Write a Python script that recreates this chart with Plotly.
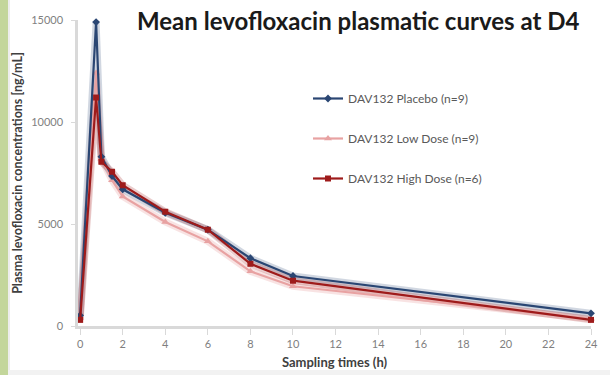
import plotly.graph_objects as go

times = [0, 0.75, 1, 1.5, 2, 4, 6, 8, 10, 24]
placebo = [520, 14900, 8300, 7350, 6700, 5550, 4720, 3320, 2450, 620]
low_dose = [400, 12400, 8200, 7150, 6350, 5100, 4150, 2680, 1950, 350]
high_dose = [300, 11200, 8050, 7560, 6900, 5600, 4720, 3050, 2220, 300]

names = ["DAV132 Placebo (n=9)", "DAV132 Low Dose (n=9)", "DAV132 High Dose (n=6)"]
x_ticks = list(range(0, 25, 2))
y_ticks = [0, 5000, 10000, 15000]

title_text = "Mean levofloxacin plasmatic curves at D4"
x_title = "Sampling times (h)"
y_title = "Plasma levofloxacin concentrations [ng/mL]"

series = [
    (names[1], low_dose, "#E8A2A2", "rgba(232,162,162,0.30)", "triangle-up", 7, 2),
    (names[0], placebo, "#2A4673", "rgba(44,74,120,0.22)", "diamond", 6, 1),
    (names[2], high_dose, "#9E1B1B", "rgba(158,27,27,0.22)", "square", 6, 3),
]

fig = go.Figure()
for name, vals, col, glow, sym, msize, rank in series:
    fig.add_trace(go.Scatter(
        x=times, y=vals, mode="lines", showlegend=False, hoverinfo="skip",
        line=dict(color=glow, width=7), cliponaxis=False,
    ))
for name, vals, col, glow, sym, msize, rank in series:
    fig.add_trace(go.Scatter(
        x=times, y=vals, name=name, mode="lines+markers",
        line=dict(color=col, width=2.2),
        marker=dict(symbol=sym, size=msize, color=col),
        legendgroup=name, legendrank=rank, cliponaxis=False,
    ))

W, H = 610, 375
ml, mr, mt, mb = 78, 19, 20, 49
pw = W - ml - mr
ph = H - mt - mb

def px2paper_x(px):
    return (px - ml) / pw

def px2paper_y(py):
    return (H - mb - py) / ph

fig.update_layout(
    width=W, height=H,
    margin=dict(l=ml, r=mr, t=mt, b=mb),
    paper_bgcolor="white", plot_bgcolor="white",
    font=dict(family="Lato, Carlito, Arial, sans-serif", color="#595959"),
    showlegend=True,
    legend=dict(
        x=px2paper_x(308), y=px2paper_y(84), xanchor="left", yanchor="top",
        font=dict(size=12, color="#595959"),
        tracegroupgap=21, bgcolor="rgba(0,0,0,0)",
        itemwidth=30,
    ),
    annotations=[
        dict(text="<b>" + title_text + "</b>", x=px2paper_x(358), y=px2paper_y(20),
             xref="paper", yref="paper", showarrow=False,
             font=dict(size=24, color="#1a1a1a", family="Lato, Carlito, Arial, sans-serif"),
             xanchor="center", yanchor="middle"),
    ],
    shapes=[
        dict(type="rect", xref="paper", yref="paper",
             x0=px2paper_x(0), x1=px2paper_x(8), y0=px2paper_y(375), y1=px2paper_y(0),
             fillcolor="#C3D69B", line=dict(width=0), layer="below"),
        dict(type="rect", xref="paper", yref="paper",
             x0=px2paper_x(8), x1=px2paper_x(10), y0=px2paper_y(375), y1=px2paper_y(0),
             fillcolor="#EDEDED", line=dict(width=0), layer="below"),
        dict(type="rect", xref="paper", yref="paper",
             x0=px2paper_x(8), x1=px2paper_x(610), y0=px2paper_y(375), y1=px2paper_y(370),
             fillcolor="#F2F2F2", line=dict(width=0), layer="below"),
    ],
)

fig.update_xaxes(
    range=[-0.1, 24], tickvals=x_ticks, ticktext=[str(t) for t in x_ticks],
    showgrid=False, zeroline=False, showline=True, linecolor="#D9D9D9", linewidth=2.5,
    ticks="outside", ticklen=6, tickcolor="#D9D9D9", tickwidth=1,
    tickfont=dict(size=11, color="#7F7F7F"), automargin=False,
    title=dict(text="<b>" + x_title + "</b>", font=dict(size=13, color="#404040"), standoff=9),
)
fig.update_yaxes(
    range=[0, 15000], tickvals=y_ticks, ticktext=[str(t) for t in y_ticks],
    showgrid=False, zeroline=False, showline=True, linecolor="#D9D9D9", linewidth=2.5,
    ticks="outside", ticklen=4, tickcolor="#D9D9D9", tickwidth=1,
    tickfont=dict(size=11, color="#7F7F7F"), ticklabelstandoff=6,
    title=dict(text="<b>" + y_title + "</b>", font=dict(size=12.5, color="#404040"), standoff=6),
)

fig.write_html("out.html")
